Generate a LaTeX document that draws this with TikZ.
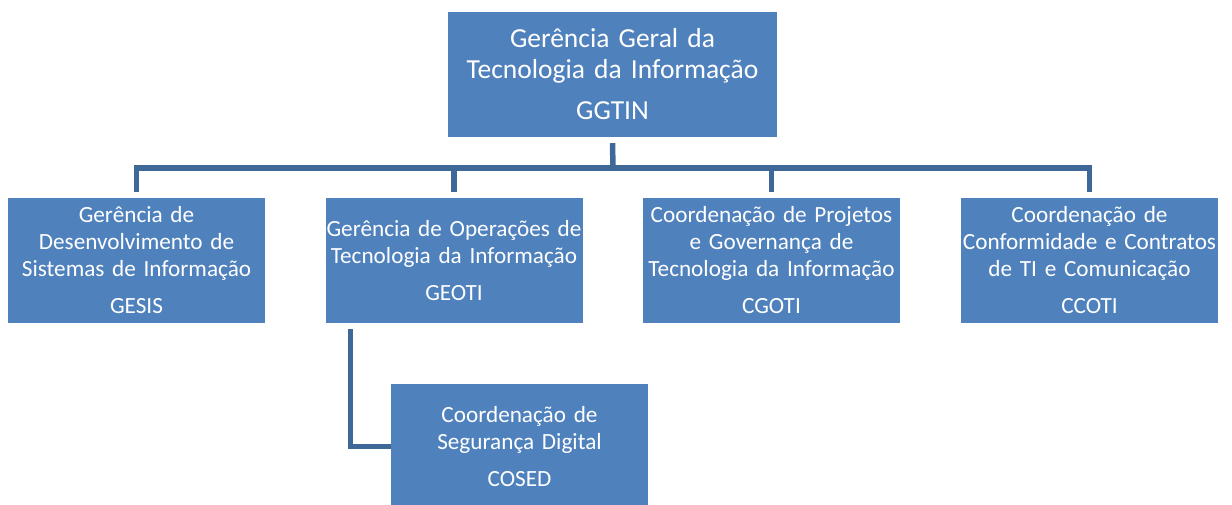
\documentclass[tikz,border=0pt]{standalone}
\usepackage{fontspec}
\setmainfont{Carlito}
\definecolor{boxblue}{RGB}{79,129,189}
\definecolor{linkblue}{RGB}{62,104,151}
\tikzset{
  orgbox/.style={fill=boxblue, text=white, align=center, inner xsep=0pt, inner ysep=0pt,
    text width=257pt, minimum height=125pt, font=\fontsize{23.2}{27}\selectfont},
  topbox/.style={orgbox, text width=329pt, font=\fontsize{27.5}{31}\selectfont},
  conn/.style={draw=linkblue, line width=5.5pt, line join=miter}
}
\begin{document}
\begin{tikzpicture}[x=1pt,y=-1pt]
\useasboundingbox (0,0) rectangle (1232,504);
\begin{scope}
\clip (0,0) rectangle (1232,504);
\node[topbox] (top) at (612.5,74.5) {Gerência Geral da\\Tecnologia da Informação\\[10pt]GGTIN};
\node[orgbox] (gesis) at (136.5,260.5) {Gerência de\\Desenvolvimento de\\Sistemas de Informação\\[10pt]GESIS};
\node[orgbox] (geoti) at (454,260.5) {Gerência de Operações de\\Tecnologia da Informação\\[10pt]GEOTI};
\node[orgbox] (cgoti) at (771.5,260.5) {Coordenação de Projetos\\e Governança de\\Tecnologia da Informação\\[10pt]CGOTI};
\node[orgbox] (ccoti) at (1089.5,260.5) {Coordenação de\\Conformidade e Contratos\\de TI e Comunicação\\[10pt]CCOTI};
\node[orgbox] (cosed) at (519.5,446.5) {Coordenação de\\Segurança Digital\\[10pt]COSED};
\coordinate (bus) at (613,168);
\draw[conn] ([yshift=-6pt]top.south) -- (bus);
\draw[conn] ([yshift=6pt]gesis.north) |- (bus);
\draw[conn] ([yshift=6pt]geoti.north) |- (bus);
\draw[conn] ([yshift=6pt]cgoti.north) |- (bus);
\draw[conn] ([yshift=6pt]ccoti.north) |- (bus);
\coordinate (geotileg) at ([xshift=25pt,yshift=-6pt]geoti.south west);
\draw[conn] (geotileg) |- (cosed.west);
\end{scope}
\end{tikzpicture}
\end{document}
